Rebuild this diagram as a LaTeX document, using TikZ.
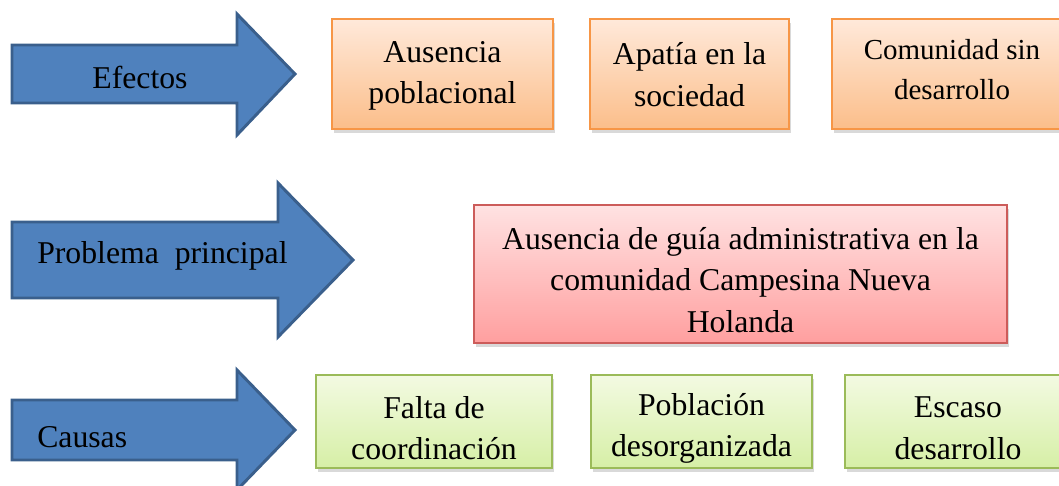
\documentclass[tikz,border=0pt]{standalone}
\usepackage{fontspec}
\setmainfont{Liberation Serif}
\usetikzlibrary{shadows}

\definecolor{azulfl}{HTML}{4F81BD}
\definecolor{azulbd}{HTML}{3A5F8C}
\definecolor{narA}{HTML}{FFE9DA}
\definecolor{narB}{HTML}{FBBE8A}
\definecolor{narbd}{HTML}{F79646}
\definecolor{rojA}{HTML}{FFE2E2}
\definecolor{rojB}{HTML}{FF9F9F}
\definecolor{rojbd}{HTML}{CC5C5A}
\definecolor{verA}{HTML}{F3FAE2}
\definecolor{verB}{HTML}{D6EFA6}
\definecolor{verbd}{HTML}{9BBB59}

\begin{document}
\begin{tikzpicture}[x=0.75pt, y=-0.75pt]
	\tikzset{flecha/.style={draw=azulbd, fill=azulfl, line width=2.2pt, line join=miter},
		txt/.style={font=\fontsize{23.8}{31}\selectfont, align=center, inner sep=0pt},
		caja/.style={line width=1.1pt, inner sep=0pt, drop shadow={opacity=0.3, shadow xshift=1.5pt, shadow yshift=-3pt}},
		efe/.style={caja, draw=narbd, top color=narA, bottom color=narB, minimum height=82.5pt},
		prob/.style={caja, draw=rojbd, top color=rojA, bottom color=rojB, minimum height=103.5pt},
		cau/.style={caja, draw=verbd, top color=verA, bottom color=verB, minimum height=69.75pt}};

	\clip (0,0) rectangle (1059,485);

	% flechas
	\draw[flecha] (12,45) -- (237,45) -- (237,14) -- (295,74) -- (237,135) -- (237,103) -- (12,103) -- cycle;
	\draw[flecha] (12,222) -- (278,222) -- (278,183) -- (353,260) -- (278,337) -- (278,298) -- (12,298) -- cycle;
	\draw[flecha] (12,400) -- (237,400) -- (237,370) -- (295,430) -- (237,490) -- (237,460) -- (12,460) -- cycle;

	\node[txt] (ef) at (140,77) {Efectos};
	\node[txt, anchor=west] (pp) at (37,256) {Problema\ \ principal};
	\node[txt, anchor=west] (ca) at (37,437) {Causas};

	% efectos
	\node[efe, minimum width=165.75pt] (e1) at (442.5,74) {};
	\node[efe, minimum width=149.25pt] (e2) at (689.5,74) {};
	\node[efe, minimum width=180pt] (e3) at (952,74) {};
	\node[txt, yshift=-1.5pt] (e1t) at (e1) {Ausencia\\poblacional};
	\node[txt, yshift=-0.5pt] (e2t) at (e2) {Apatía en la\\sociedad};
	\node[txt, yshift=3pt, font=\fontsize{21.75}{30}\selectfont] (e3t) at (e3) {Comunidad sin\\desarrollo};

	% problema
	\node[prob, minimum width=399.75pt] (p0) at (740.5,274) {};
	\node[txt, yshift=-4.5pt] (p0t) at (p0) {Ausencia de guía administrativa en la\\comunidad Campesina Nueva\\Holanda};

	% causas
	\node[cau, minimum width=177pt] (c1) at (434,421.5) {};
	\node[cau, minimum width=165.75pt] (c2) at (701.5,421.5) {};
	\node[cau, minimum width=169.5pt] (c3) at (958,421.5) {};
	\node[txt, yshift=-5pt] (c1t) at (c1) {Falta de\\coordinación};
	\node[txt, yshift=-5pt] (c2t) at (c2) {Población\\desorganizada};
	\node[txt, yshift=-5pt] (c3t) at (c3) {Escaso\\desarrollo};

\end{tikzpicture}
\end{document}
